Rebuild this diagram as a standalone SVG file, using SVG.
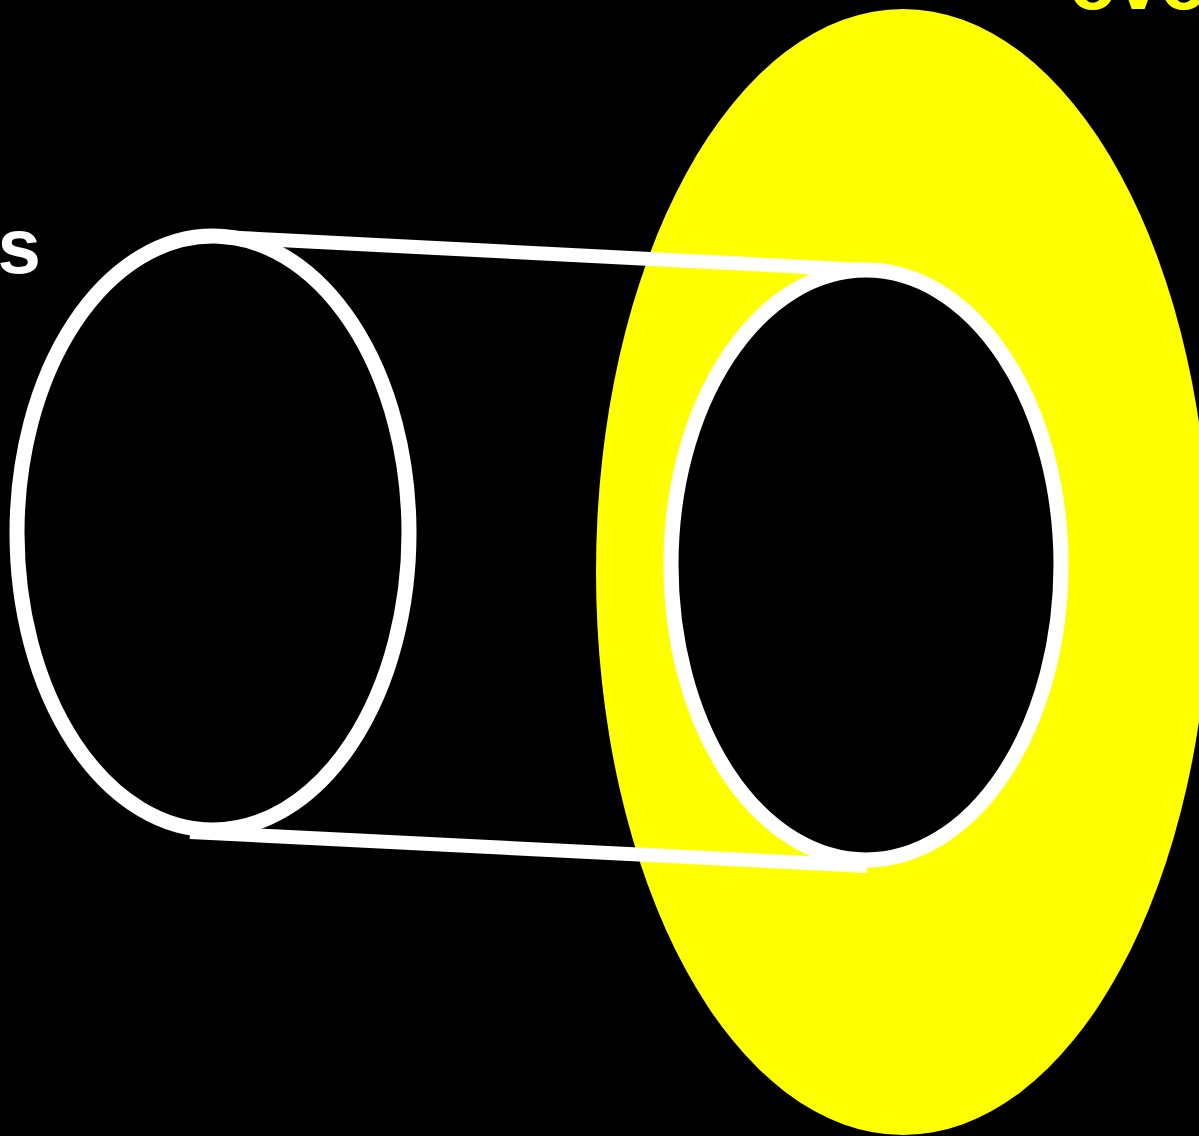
<svg xmlns="http://www.w3.org/2000/svg" width="1199" height="1136" viewBox="0 0 1199 1136">
<style>
.ring{fill:#000;stroke:#fff;stroke-width:15}
.edge{stroke:#fff;stroke-width:14;stroke-linecap:butt;fill:none}
.lbl{font-family:"Liberation Sans",Arial,sans-serif;font-weight:bold;font-size:78px}
</style>
<rect x="0" y="0" width="1199" height="1136" fill="#000"/>
<g id="halo"><ellipse cx="903" cy="572" rx="307" ry="563" fill="#ffff00"/></g>
<g id="left-end"><ellipse class="ring" cx="213" cy="533" rx="196" ry="297"/></g>
<g id="right-end"><ellipse class="ring" cx="866" cy="565" rx="195" ry="295"/></g>
<g id="connectors">
<line class="edge" x1="220" y1="237" x2="866" y2="270"/>
<line class="edge" x1="190" y1="832" x2="867" y2="866"/>
</g>
<g id="labels">
<text class="lbl" x="41" y="273" fill="#fff" text-anchor="end">s</text>
<text class="lbl" x="1069" y="9" fill="#ffff00">ovo</text>
</g>
</svg>
